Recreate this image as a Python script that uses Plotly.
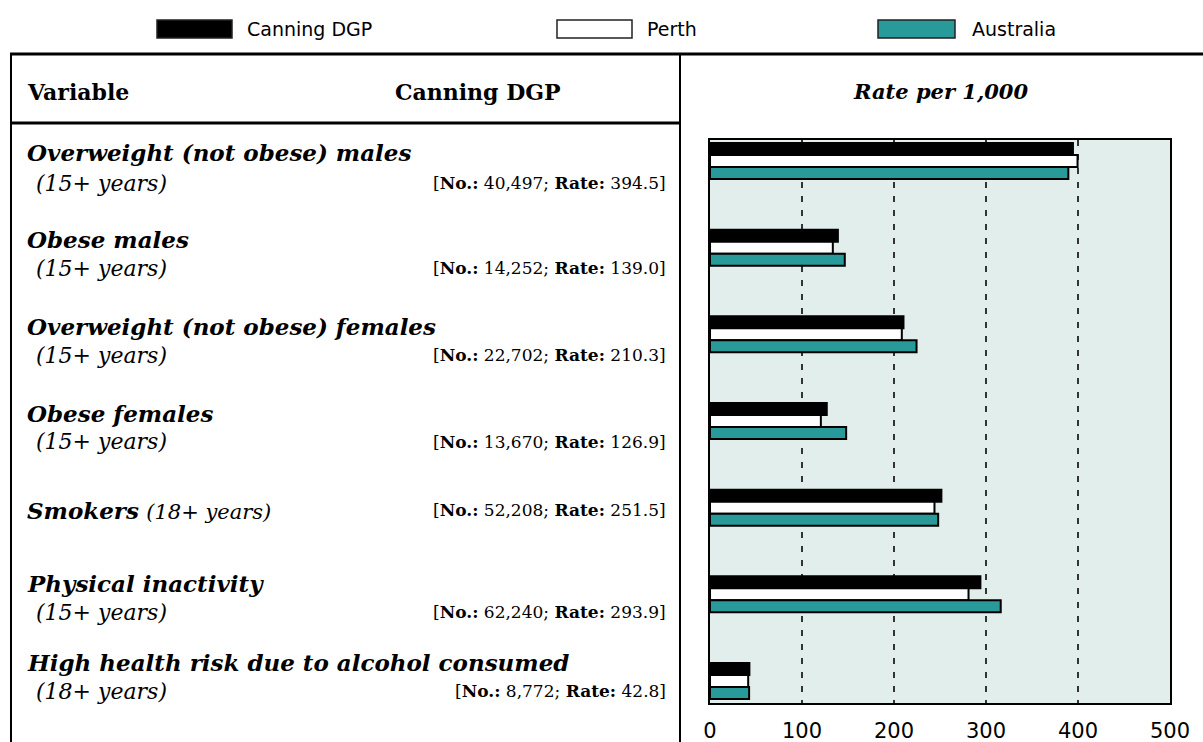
import plotly.graph_objects as go

# ---------------- data ----------------
categories = ["Overweight (not obese) males", "Obese males", "Overweight (not obese) females",
              "Obese females", "Smokers", "Physical inactivity",
              "High health risk due to alcohol consumed"]
age_groups = ["(15+ years)", "(15+ years)", "(15+ years)", "(15+ years)",
              "(18+ years)", "(15+ years)", "(18+ years)"]
numbers = ["40,497", "14,252", "22,702", "13,670", "52,208", "62,240", "8,772"]
canning = [394.5, 139.0, 210.3, 126.9, 251.5, 293.9, 42.8]
perth = [399.5, 133.5, 208.5, 120.5, 244.0, 281.0, 41.5]
australia = [389.5, 146.5, 224.5, 148.0, 248.0, 316.0, 42.5]
series_names = ["Canning DGP", "Perth", "Australia"]
x_ticks = [0, 100, 200, 300, 400, 500]

# ---------------- styling ----------------
W, H = 1203, 742
BLACK = "#000000"
WHITE = "#ffffff"
TEAL = "#279a99"
PLOT_BG = "#e1eeec"
SERIF = "DejaVu Serif"
SANS = "DejaVu Sans"


def px(x):
    return x / W


def py(y):
    return 1 - y / H


fig = go.Figure()
for name, vals, col in zip(series_names, [canning, perth, australia], [BLACK, WHITE, TEAL]):
    fig.add_trace(go.Bar(
        y=categories, x=vals, name=name, orientation="h",
        marker=dict(color=col, line=dict(color=BLACK, width=2)),
        showlegend=False, hoverinfo="x+name",
    ))

shapes = []
annotations = []

# legend (custom)
legend_pos = [(157, 232, 245), (557, 632, 645), (878, 955, 970)]
for (x0, x1, tx), name, col in zip(legend_pos, series_names, [BLACK, WHITE, TEAL]):
    shapes.append(dict(type="rect", xref="paper", yref="paper",
                       x0=px(x0), x1=px(x1), y0=py(38), y1=py(20),
                       fillcolor=col, line=dict(color="#222", width=1.5)))
    annotations.append(dict(xref="paper", yref="paper", x=px(tx), y=py(29),
                            text=name, showarrow=False, xanchor="left", yanchor="middle",
                            font=dict(family=SANS, size=19, color=BLACK)))


# table frame lines
def line(x0, y0, x1, y1, w):
    shapes.append(dict(type="line", xref="paper", yref="paper",
                       x0=px(x0), y0=py(y0), x1=px(x1), y1=py(y1),
                       line=dict(color=BLACK, width=w), layer="above"))


line(10, 54, 1203, 54, 3)
line(11, 54, 11, 742, 2)
line(680, 54, 680, 742, 2)
line(11, 123, 680, 123, 3)

# headers
annotations.append(dict(xref="paper", yref="paper", x=px(25), y=py(92), text="<b>Variable</b>",
                        showarrow=False, xanchor="left", yanchor="middle",
                        font=dict(family=SERIF, size=22, color=BLACK)))
annotations.append(dict(xref="paper", yref="paper", x=px(393), y=py(92), text="<b>Canning DGP</b>",
                        showarrow=False, xanchor="left", yanchor="middle",
                        font=dict(family=SERIF, size=22, color=BLACK)))
annotations.append(dict(xref="paper", yref="paper", x=px(940), y=py(92), text="<b><i>Rate per 1,000</i></b>",
                        showarrow=False, xanchor="center", yanchor="middle",
                        font=dict(family=SERIF, size=21, color=BLACK)))

# row labels
title_y = [152, 239, 326, 413, 510, 583, 662]
sub_y = [183, 268, 355, 442, 510, 612, 691]
for i, cat in enumerate(categories):
    if i == 4:
        annotations.append(dict(xref="paper", yref="paper", x=px(25), y=py(title_y[i]),
                                text=f"<b><i>{cat}</i></b> <span style='font-size:21px'><i>{age_groups[i]}</i></span>",
                                showarrow=False, xanchor="left", yanchor="middle",
                                font=dict(family=SERIF, size=23, color=BLACK)))
    else:
        annotations.append(dict(xref="paper", yref="paper", x=px(25), y=py(title_y[i]),
                                text=f"<b><i>{cat}</i></b>",
                                showarrow=False, xanchor="left", yanchor="middle",
                                font=dict(family=SERIF, size=23, color=BLACK)))
        annotations.append(dict(xref="paper", yref="paper", x=px(34), y=py(sub_y[i]),
                                text=f"<i>{age_groups[i]}</i>",
                                showarrow=False, xanchor="left", yanchor="middle",
                                font=dict(family=SERIF, size=22, color=BLACK)))
    annotations.append(dict(xref="paper", yref="paper", x=px(668), y=py(sub_y[i]),
                            text=f"[<b>No.:</b> {numbers[i]}; <b>Rate:</b> {canning[i]:.1f}]",
                            showarrow=False, xanchor="right", yanchor="middle",
                            font=dict(family=SERIF, size=17, color=BLACK)))

fig.update_layout(
    width=W, height=H,
    margin=dict(l=0, r=0, t=0, b=0, pad=0, autoexpand=False),
    paper_bgcolor=WHITE, plot_bgcolor=PLOT_BG,
    barmode="group", bargap=0.585, bargroupgap=0,
    shapes=shapes, annotations=annotations,
    showlegend=False,
    xaxis=dict(domain=[px(710), px(1170)], range=[0, 500], tickvals=x_ticks,
               showgrid=True, gridcolor="#333333", gridwidth=1.5, griddash="6px,8px",
               zeroline=False, showline=True, linecolor=BLACK, linewidth=2, mirror=True,
               ticks="outside", ticklen=8, tickcolor="rgba(0,0,0,0)",
               tickfont=dict(family=SANS, size=21, color=BLACK), fixedrange=True,
               automargin=False),
    yaxis=dict(domain=[py(703), py(140)], range=[6.254, -0.242], type="category",
               showticklabels=False, showgrid=False, zeroline=False,
               showline=True, linecolor=BLACK, linewidth=2, mirror=True, fixedrange=True,
               automargin=False),
)

post = (
    "document.documentElement.style.margin='0';"
    "document.documentElement.style.overflow='hidden';"
    "document.body.style.margin='0';"
    "document.body.style.overflow='hidden';"
)
fig.write_html("out.html", config={"displayModeBar": False}, post_script=post)
